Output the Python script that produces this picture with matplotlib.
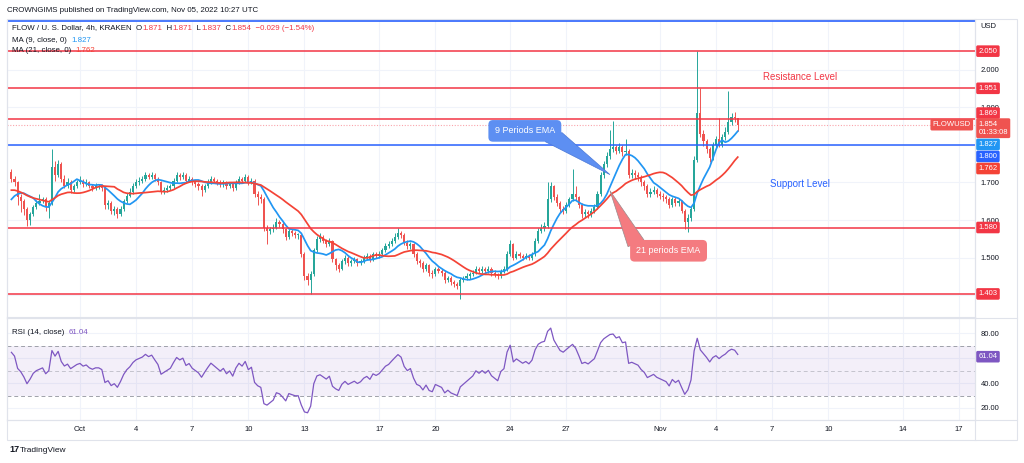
import matplotlib
matplotlib.use("Agg")
import matplotlib.pyplot as plt
from matplotlib.patches import Polygon, Rectangle
from matplotlib.lines import Line2D
import numpy as np
import pandas as pd

plt.rcParams["font.family"] = ["Liberation Sans", "DejaVu Sans"]

W, H = 1024, 463

# ---- data (prices in thousandths of USD, 4h candles starting 2022-09-27 08:00 UTC)
START = pd.Timestamp("2022-09-27 08:00")

warmup_close = [1700, 1710, 1720, 1710, 1700, 1690, 1700, 1690, 1700, 1690, 1680, 1685,
                1620, 1615, 1625, 1635, 1640, 1650, 1673, 1727]

close_k = [1710, 1700, 1662, 1650, 1630, 1600, 1615, 1635, 1645, 1650,
           1655, 1635, 1645, 1740, 1720, 1750, 1710, 1690, 1700, 1680,
           1690, 1700, 1705, 1695, 1700, 1690, 1685, 1690, 1690, 1685,
           1640, 1645, 1625, 1630, 1615, 1630, 1650, 1665, 1675, 1690,
           1700, 1705, 1710, 1720, 1715, 1720, 1710, 1700, 1675, 1680,
           1685, 1690, 1705, 1720, 1715, 1720, 1705, 1710, 1700, 1695,
           1690, 1680, 1690, 1700, 1710, 1705, 1700, 1695, 1700, 1690,
           1695, 1685, 1700, 1710, 1705, 1715, 1700, 1705, 1670, 1660,
           1655, 1580, 1570, 1575, 1580, 1595, 1590, 1575, 1555, 1570,
           1565, 1560, 1560, 1510, 1450, 1440, 1455, 1520, 1550, 1555,
           1545, 1535, 1545, 1495, 1480, 1470, 1490, 1500, 1485, 1490,
           1495, 1485, 1490, 1500, 1505, 1495, 1510, 1505, 1510, 1520,
           1530, 1535, 1545, 1555, 1565, 1560, 1540, 1530, 1535, 1510,
           1490, 1485, 1470, 1480, 1460, 1455, 1470, 1465, 1460, 1440,
           1445, 1435, 1430, 1425, 1440, 1445, 1450, 1455, 1460, 1470,
           1465, 1470, 1465, 1470, 1460, 1455, 1450, 1465, 1470, 1510,
           1535, 1500, 1510, 1505, 1500, 1505, 1500, 1510, 1545, 1570,
           1580, 1585, 1655, 1690, 1660, 1645, 1630, 1625, 1640, 1655,
           1670, 1660, 1640, 1615, 1620, 1615, 1625, 1635, 1670, 1720,
           1750, 1770, 1790, 1795, 1785, 1795, 1780, 1785, 1720, 1725,
           1720, 1715, 1700, 1690, 1670, 1675, 1680, 1670, 1665, 1660,
           1655, 1640, 1655, 1645, 1650, 1625, 1595, 1605, 1630, 1760,
           1885, 1830, 1810, 1790, 1765, 1800, 1815, 1800, 1820, 1835,
           1860, 1875, 1871, 1854]

high_k = [1735, 1716, 1704, 1668, 1656, 1634, 1620, 1640, 1652, 1668,
          1662, 1660, 1650, 1790, 1756, 1760, 1754, 1720, 1712, 1706,
          1696, 1706, 1716, 1710, 1708, 1705, 1696, 1698, 1697, 1696,
          1690, 1652, 1650, 1638, 1634, 1636, 1656, 1672, 1684, 1698,
          1708, 1714, 1718, 1728, 1726, 1727, 1724, 1715, 1705, 1688,
          1692, 1697, 1712, 1728, 1726, 1728, 1724, 1718, 1714, 1706,
          1700, 1695, 1697, 1708, 1716, 1715, 1710, 1706, 1706, 1704,
          1702, 1700, 1706, 1718, 1715, 1722, 1720, 1712, 1710, 1676,
          1668, 1660, 1588, 1582, 1590, 1605, 1600, 1594, 1580, 1576,
          1575, 1570, 1566, 1563, 1514, 1458, 1465, 1526, 1558, 1566,
          1560, 1550, 1552, 1548, 1500, 1486, 1496, 1506, 1504, 1496,
          1502, 1499, 1497, 1506, 1512, 1510, 1516, 1516, 1518, 1526,
          1538, 1544, 1552, 1565, 1578, 1572, 1565, 1546, 1542, 1538,
          1514, 1496, 1490, 1486, 1484, 1466, 1476, 1476, 1470, 1464,
          1452, 1450, 1440, 1436, 1446, 1452, 1458, 1462, 1468, 1478,
          1476, 1478, 1475, 1477, 1474, 1466, 1460, 1470, 1478, 1518,
          1548, 1540, 1518, 1516, 1510, 1512, 1510, 1516, 1552, 1578,
          1590, 1595, 1700, 1702, 1694, 1668, 1650, 1636, 1648, 1662,
          1737, 1690, 1665, 1645, 1628, 1626, 1632, 1642, 1678, 1728,
          1758, 1780, 1840, 1865, 1800, 1805, 1800, 1817, 1790, 1735,
          1732, 1728, 1720, 1706, 1695, 1684, 1690, 1686, 1678, 1672,
          1666, 1660, 1662, 1660, 1658, 1654, 1630, 1615, 1638, 1770,
          2050, 1951, 1840, 1815, 1795, 1808, 1825, 1871, 1830, 1848,
          1945, 1885, 1888, 1871]

low_k = [1702, 1690, 1640, 1622, 1612, 1585, 1588, 1610, 1628, 1640,
         1644, 1625, 1605, 1640, 1705, 1715, 1700, 1684, 1684, 1672,
         1674, 1686, 1696, 1688, 1690, 1684, 1678, 1680, 1682, 1678,
         1630, 1628, 1615, 1612, 1605, 1610, 1625, 1646, 1660, 1670,
         1685, 1694, 1698, 1705, 1708, 1709, 1704, 1694, 1668, 1668,
         1674, 1680, 1686, 1700, 1706, 1710, 1698, 1700, 1692, 1688,
         1680, 1665, 1674, 1686, 1695, 1698, 1692, 1688, 1688, 1683,
         1684, 1678, 1680, 1696, 1698, 1700, 1694, 1696, 1660, 1640,
         1645, 1572, 1537, 1562, 1568, 1575, 1582, 1566, 1548, 1550,
         1558, 1552, 1550, 1502, 1440, 1428, 1403, 1450, 1515, 1542,
         1538, 1528, 1530, 1488, 1468, 1462, 1466, 1484, 1478, 1478,
         1485, 1478, 1480, 1486, 1494, 1488, 1490, 1498, 1500, 1505,
         1515, 1525, 1530, 1540, 1550, 1552, 1534, 1522, 1524, 1502,
         1482, 1476, 1462, 1464, 1452, 1446, 1450, 1458, 1452, 1432,
         1434, 1428, 1422, 1415, 1390, 1434, 1440, 1444, 1450, 1455,
         1458, 1460, 1458, 1460, 1452, 1448, 1442, 1445, 1460, 1465,
         1505, 1494, 1495, 1498, 1494, 1495, 1494, 1494, 1505, 1540,
         1565, 1572, 1580, 1648, 1652, 1636, 1620, 1615, 1618, 1635,
         1650, 1652, 1632, 1606, 1608, 1606, 1608, 1618, 1630, 1665,
         1712, 1742, 1762, 1780, 1775, 1778, 1770, 1772, 1712, 1712,
         1710, 1705, 1690, 1680, 1660, 1662, 1668, 1662, 1656, 1650,
         1645, 1632, 1635, 1636, 1638, 1618, 1575, 1568, 1598, 1625,
         1755, 1820, 1798, 1778, 1755, 1760, 1792, 1795, 1795, 1812,
         1830, 1852, 1860, 1837]

red_levels = [2.050, 1.951, 1.869, 1.580, 1.403]
blue_level = 1.800
top_blue_level = 2.130

# values printed by the chart legend / price scale
last_ohlc = ["1.871", "1.871", "1.837", "1.854"]
last_change = "\u22120.029 (\u22121.54%)"
ma9_last, ma21_last, rsi_last = 1.827, 1.762, 61.04

tick_dates = ["2022-10-01", "2022-10-04", "2022-10-07", "2022-10-10", "2022-10-13",
              "2022-10-17", "2022-10-20", "2022-10-24", "2022-10-27", "2022-11-01",
              "2022-11-04", "2022-11-07", "2022-11-10", "2022-11-14", "2022-11-17"]
tick_labels = ["Oct", "4", "7", "10", "13", "17", "20", "24", "27", "Nov",
               "4", "7", "10", "14", "17"]

# ---- derived series
nw = len(warmup_close)
full = pd.Series(np.r_[warmup_close, close_k] / 1000.0)
closes = full.to_numpy()[nw:]
opens = full.shift(1).to_numpy()[nw:]
highs = np.maximum(np.array(high_k) / 1000.0, np.maximum(opens, closes))
lows = np.minimum(np.array(low_k) / 1000.0, np.minimum(opens, closes))
ma9 = full.rolling(9).mean().to_numpy()[nw:]
ma21 = full.rolling(21).mean().to_numpy()[nw:]
delta = full.diff()
gain = delta.clip(lower=0).ewm(alpha=1 / 14, adjust=False).mean()
loss = (-delta).clip(lower=0).ewm(alpha=1 / 14, adjust=False).mean()
rsi = (100 - 100 / (1 + gain / loss)).to_numpy()[nw:]
idx = np.arange(len(closes))
tick_pos = [(pd.Timestamp(d) - START) / pd.Timedelta(hours=4) for d in tick_dates]

UP, DOWN = "#26a69a", "#ef5350"
RED, BLUE, MA_BLUE, MA_RED, PURPLE = "#f23645", "#2962ff", "#2196f3", "#f44336", "#7e57c2"
TXT, GRID, FRAME = "#131722", "#f0f3fa", "#e0e3eb"


def px_rect(x0, y0, x1, y1):
    return [x0 / W, 1 - y1 / H, (x1 - x0) / W, (y1 - y0) / H]


fig = plt.figure(figsize=(W / 100, H / 100), dpi=100)
ax = fig.add_axes(px_rect(7, 20, 975, 317))
ax_rsi = fig.add_axes(px_rect(7, 318, 975, 420), sharex=ax)

for a in (ax, ax_rsi):
    a.set_facecolor("white")
    for s in a.spines.values():
        s.set_color(FRAME)
        s.set_linewidth(0.8)
    a.yaxis.tick_right()
    a.tick_params(length=0, labelsize=5.5, labelcolor=TXT, pad=4)
    for p in tick_pos:
        a.axvline(p, color=GRID, lw=0.8, zorder=0)

# ---- candles
up = closes >= opens
colors = np.where(up, UP, DOWN)
body_lo = np.minimum(opens, closes)
body_h = np.maximum(np.abs(closes - opens), 0.0015)
ax.vlines(idx, lows, highs, colors=colors, lw=0.7, zorder=3)
ax.bar(idx, body_h, bottom=body_lo, width=0.68, color=colors, linewidth=0, zorder=3)

ax.plot(idx, ma9, color=MA_BLUE, lw=1.25, zorder=4)
ax.plot(idx, ma21, color=MA_RED, lw=1.25, zorder=4)

for lv in red_levels:
    ax.axhline(lv, color=RED, lw=1.1, zorder=5)
ax.axhline(blue_level, color=BLUE, lw=1.1, zorder=5)
ax.axhline(top_blue_level, color=BLUE, lw=1.2, zorder=5)
ax.axhline(closes[-1], color=RED, lw=0.8, ls=(0, (1, 1.5)), alpha=0.45, zorder=2)

ax.set_xlim(-1.41, 309.1)
ax.set_ylim(1.3415, 2.133)
for t in [1.4, 1.5, 1.6, 1.7, 1.8, 1.9, 2.0]:
    ax.axhline(t, color=GRID, lw=0.8, zorder=0)
# 1.400 and 1.800 are hidden behind price tags on the original scale
ax.set_yticks([1.5, 1.6, 1.7, 1.9, 2.0])
ax.yaxis.set_major_formatter(matplotlib.ticker.FormatStrFormatter("%.3f"))
ax.tick_params(axis="x", labelbottom=False)


def tag(a, y, text, bg, dy_px=0.0, ha="left", dx_pt=2.5, size=5.5):
    a.annotate(text, xy=(1, y), xycoords=a.get_yaxis_transform(),
               xytext=(dx_pt, -dy_px * 0.72), textcoords="offset points",
               ha=ha, va="center", fontsize=size, color="white", linespacing=1.25,
               bbox=dict(boxstyle="round,pad=0.3,rounding_size=0.2", fc=bg, ec="none"),
               annotation_clip=False, zorder=10)


tag(ax, 2.050, "2.050", RED)
tag(ax, 1.951, "1.951", RED)
tag(ax, 1.869, "1.869", RED, dy_px=-6)
tag(ax, closes[-1], last_ohlc[3] + "\n01:33:08", "#ef5350", dy_px=3.5)
tag(ax, closes[-1], "FLOWUSD", "#ef5350", ha="right", dx_pt=-3)
tag(ax, ma9_last, f"{ma9_last:.3f}", MA_BLUE, dy_px=9.6)
tag(ax, blue_level, "1.800", BLUE, dy_px=11.5)
tag(ax, ma21_last, f"{ma21_last:.3f}", MA_RED, dy_px=9.3)
tag(ax, 1.580, "1.580", RED)
tag(ax, 1.403, "1.403", RED)
fig.text(980 / W, 1 - 27 / H, "USD", fontsize=5.5, color=TXT, va="center")

# ---- text annotations and callouts
ax.text(253, 1.980, "Resistance Level", color=RED, fontsize=7, ha="center", va="center", zorder=6)
ax.text(253, 1.697, "Support Level", color=BLUE, fontsize=7, ha="center", va="center", zorder=6)

ax.add_patch(Polygon([(171.2, 1.809), (176.6, 1.833), (192.0, 1.721)],
                     closed=True, fc="#5d8ff2", ec="#4a78d8", lw=0.5, zorder=7))
ax.text(164.7, 1.8375, "9 Periods EMA", color="white", fontsize=6.5, ha="center",
        va="center", zorder=8,
        bbox=dict(boxstyle="round,pad=0.7,rounding_size=0.5", fc="#5d8ff2", ec="none"))
ax.add_patch(Polygon([(197.8, 1.529), (202.9, 1.547), (192.0, 1.678)],
                     closed=True, fc="#f47b80", ec="#9a8a8c", lw=0.5, zorder=7))
ax.text(210.8, 1.518, "21 periods EMA", color="white", fontsize=6.5, ha="center",
        va="center", zorder=8,
        bbox=dict(boxstyle="round,pad=0.7,rounding_size=0.5", fc="#f47b80", ec="none"))

# ---- RSI pane
ax_rsi.axhspan(30, 70, color=PURPLE, alpha=0.09, lw=0, zorder=1)
for lv, al in ((70, 0.9), (50, 0.5), (30, 0.9)):
    ax_rsi.axhline(lv, color="#9598a1", lw=0.7, ls=(0, (4, 3)), alpha=al, zorder=2)
for lv in (20, 40, 60, 80):
    ax_rsi.axhline(lv, color=GRID, lw=0.8, zorder=0)
ax_rsi.plot(idx, rsi, color=PURPLE, lw=0.9, zorder=4)
ax_rsi.set_ylim(10.4, 92)
ax_rsi.set_yticks([20, 40, 80])
ax_rsi.yaxis.set_major_formatter(matplotlib.ticker.FormatStrFormatter("%.2f"))
ax_rsi.set_xticks(tick_pos)
ax_rsi.set_xticklabels(tick_labels)
ax_rsi.tick_params(axis="x", pad=4)
tag(ax_rsi, rsi_last, f"{rsi_last:.2f}", PURPLE)

# ---- frame lines
fig.add_artist(Rectangle((7 / W, 1 - 440 / H), 1010 / W, 421 / H, transform=fig.transFigure,
                         fill=False, ec=FRAME, lw=0.8))
for y in (317.5, 420):
    fig.add_artist(Line2D([7 / W, 1017 / W], [1 - y / H] * 2, color=FRAME, lw=0.8))
fig.add_artist(Line2D([975 / W] * 2, [1 - 19 / H, 1 - 440 / H], color=FRAME, lw=0.8))

# ---- legend / header text
renderer = fig.canvas.get_renderer()


def chain(x_px, y_px, pieces, size=5.7, weight="normal"):
    x = x_px
    for s, c in pieces:
        t = fig.text(x / W, 1 - y_px / H, s, color=c, fontsize=size, va="center",
                     ha="left", fontweight=weight)
        x += t.get_window_extent(renderer).width


chain(7, 10, [("CROWNGIMS published on TradingView.com, Nov 05, 2022 10:27 UTC", TXT)])
chain(12, 28, [("FLOW / U. S. Dollar, 4h, KRAKEN  ", TXT),
               ("O", TXT), (last_ohlc[0], RED), ("  H", TXT), (last_ohlc[1], RED),
               ("  L", TXT), (last_ohlc[2], RED), ("  C", TXT), (last_ohlc[3], RED),
               ("  " + last_change, RED)])
chain(12, 40, [("MA (9, close, 0)  ", TXT), (f"{ma9_last:.3f}", MA_BLUE)])
chain(12, 51, [("MA (21, close, 0)  ", TXT), (f"{ma21_last:.3f}", MA_RED)])
chain(12, 333, [("RSI (14, close)  ", TXT), (f"{rsi_last:.2f}", PURPLE)])
chain(9, 450, [("17", TXT)], size=6.5, weight="heavy")
chain(20, 450, [("TradingView", TXT)], size=6)

fig.savefig("out.png", dpi=100, facecolor="white")
